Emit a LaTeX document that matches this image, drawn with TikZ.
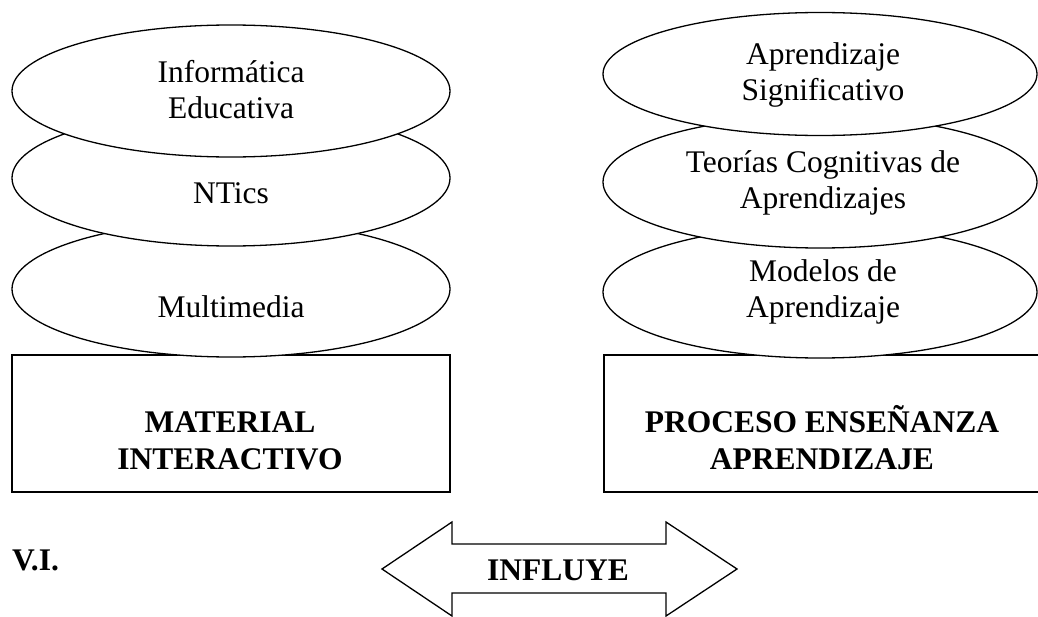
\documentclass[tikz,border=0pt]{standalone}
\usepackage{fontspec}
\setmainfont{Liberation Serif}
\usetikzlibrary{shapes.geometric}
\begin{document}
\begin{tikzpicture}[x=1pt,y=-1pt,
  lw/.style={line width=1.3pt},
  ell/.style={lw,draw,fill=white,ellipse,inner sep=0pt},
  boxr/.style={lw,draw},
  txt/.style={font=\fontsize{31.5}{36}\selectfont,align=center,anchor=base,inner sep=0pt},
  btxt/.style={txt,font=\fontsize{31.5}{37}\selectfont\bfseries}]
\useasboundingbox (0,0) rectangle (1038,616);
% boxes
\draw[boxr] (12,355) rectangle (450,492);
\draw[boxr] (604,355) rectangle (1060,492);
% left ellipses
\node[ell,minimum width=438pt,minimum height=136pt] (l3) at (231,289) {};
\node[ell,minimum width=438pt,minimum height=136pt] (l2) at (231,178) {};
\node[ell,minimum width=438pt,minimum height=132pt] (l1) at (231,91) {};
% right ellipses
\node[ell,minimum width=434pt,minimum height=132pt] (r3) at (820,292) {};
\node[ell,minimum width=434pt,minimum height=132pt] (r2) at (820,182) {};
\node[ell,minimum width=434pt,minimum height=123pt] (r1) at (820,74) {};
% texts (multi-line: base = last line baseline)
\node[txt] (t1) at (231,118) {Informática\\Educativa};
\node[txt] (t2) at (231,203) {NTics};
\node[txt] (t3) at (231,317) {Multimedia};
\node[txt] (t4) at (823,100) {Aprendizaje\\Significativo};
\node[txt] (t5) at (823,208) {Teorías Cognitivas de\\Aprendizajes};
\node[txt] (t6) at (823,317) {Modelos de\\Aprendizaje};
\node[btxt] (b1) at (230,469) {MATERIAL\\INTERACTIVO};
\node[btxt] (b2) at (822,469) {PROCESO ENSEÑANZA\\APRENDIZAJE};
\node[btxt,anchor=base west] (vi) at (12,570) {V.I.};
% double arrow
\draw[lw] (382,569) -- (452,522) -- (452,544) -- (666,544) -- (666,522) -- (737,569)
  -- (666,616) -- (666,593) -- (452,593) -- (452,616) -- cycle;
\node[btxt] (inf) at (558,580) {INFLUYE};
\end{tikzpicture}
\end{document}
